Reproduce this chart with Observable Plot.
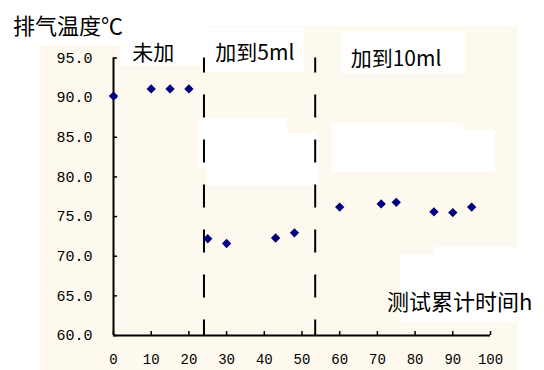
<!DOCTYPE html>
<html><head><meta charset="utf-8">
<script src="https://cdn.jsdelivr.net/npm/d3@7"></script>
<script src="https://cdn.jsdelivr.net/npm/@observablehq/plot@0.6"></script>
<style>
body{margin:0;background:#fff;}
#wrap{position:relative;width:544px;height:370px;overflow:hidden;background:#fff;}
.patch{position:absolute;}
.lbl{position:absolute;font-family:"Noto Sans CJK SC";color:#000;white-space:nowrap;line-height:1;}
#chart{position:absolute;left:0;top:0;}
</style></head><body>
<div id="wrap"><div id="chart"></div></div>
<script>
// ---- data ----
const times = [0, 10, 15, 20, 25, 30, 43, 48, 60, 71, 75, 85, 90, 95];
const temps = [90.2, 91.1, 91.1, 91.1, 72.2, 71.6, 72.3, 72.95, 76.2, 76.6, 76.8, 75.6, 75.5, 76.2];
const dividers = [24, 53.5];
const segLabels = ["未加", "加到5ml", "加到10ml"];
const segLabelX = [5, 27, 62.9];
const segLabelY = [95.64, 95.64, 94.8];
const xTicks = [0, 10, 20, 30, 40, 50, 60, 70, 80, 90, 100];
const yTicks = [60, 65, 70, 75, 80, 85, 90, 95];
const yTitle = "排气温度℃";
const xTitle = "测试累计时间h";

// ---- background patches (layout of the scanned picture) ----
const wrap = document.getElementById("wrap");
const cream = "#fef9ee";
const patches = [
  [40, 45, 477, 325, cream],
  [205, 26, 312, 20, cream],
  [120, 45, 85, 20, "#fff"],
  [205, 27, 99, 45, "#fff"],
  [341, 31, 124, 42, "#fff"],
  [198, 118, 89, 50, "#fff"],
  [207, 133, 111, 52, "#fff"],
  [332, 123, 131, 49, "#fff"],
  [332, 130, 163, 42, "#fff"],
  [434, 247, 85, 8, "#fff"],
  [400, 255, 119, 67, "#fff"]
];
for (const [l, t, w, h, c] of patches) {
  const d = document.createElement("div");
  d.className = "patch";
  Object.assign(d.style, {left: l + "px", top: t + "px", width: w + "px", height: h + "px", background: c});
  wrap.insertBefore(d, document.getElementById("chart"));
}

const chart = Plot.plot({
  width: 544, height: 370,
  marginLeft: 113, marginRight: 54, marginTop: 57.5, marginBottom: 35,
  style: {background: "transparent", fontFamily: "Liberation Mono", fontSize: "15px", color: "#000", overflow: "visible"},
  x: {domain: [0, 100]},
  y: {domain: [60, 95]},
  marks: [
    Plot.ruleX(dividers, {x: d => d, y1: 95, y2: 60, stroke: "#000", strokeWidth: 2, strokeDasharray: "23,22", strokeDashoffset: 8}),
    Plot.ruleX([0], {stroke: "#000", strokeWidth: 2}),
    Plot.ruleY([60], {stroke: "#000", strokeWidth: 2}),
    Plot.axisX(xTicks, {tickSize: -4, tickPadding: 23, label: null, strokeWidth: 1.5, fontSize: 14}),
    Plot.axisY(yTicks, {tickSize: -4, tickPadding: 25, label: null, strokeWidth: 1.5, tickFormat: d3.format(".1f")}),
    Plot.dot(times, {x: times, y: temps, symbol: "diamond2", r: 4.2, fill: "#000080", stroke: "none"}),
    Plot.text(segLabels, {x: segLabelX, y: segLabelY, text: segLabels, textAnchor: "start", fontFamily: "Noto Sans CJK SC", fontSize: 21, fill: "#000"})
  ]
});
document.getElementById("chart").appendChild(chart);

function addLabel(txt, left, top, size) {
  const d = document.createElement("div");
  d.className = "lbl";
  d.textContent = txt;
  Object.assign(d.style, {left: left + "px", top: top + "px", fontSize: size + "px"});
  wrap.appendChild(d);
}
addLabel(yTitle, 13, 13, 22);
addLabel(xTitle, 387, 289, 22);
</script>
</body></html>
